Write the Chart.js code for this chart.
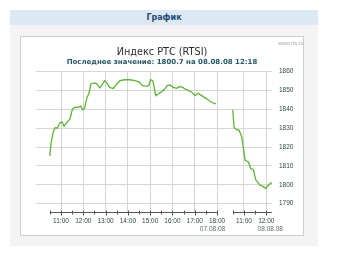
<!DOCTYPE html>
<html>
<head>
<meta charset="utf-8">
<script src="https://cdn.jsdelivr.net/npm/chart.js@4.4.0/dist/chart.umd.min.js"></script>
<style>
  body { margin: 0; width: 340px; height: 255px; background: #fff; position: relative; overflow: hidden; font-family: "DejaVu Sans", sans-serif; }
  #hdr { position: absolute; left: 10px; top: 10px; width: 308px; height: 15px; line-height: 15px; background: #dce8f4; color: #1f4e79; font-weight: bold; font-size: 8px; text-align: center; }
  #panel { position: absolute; left: 10px; top: 25px; width: 308px; height: 221px; background: #f3f3f3; }
  #box { position: absolute; left: 20px; top: 36px; width: 282px; height: 198px; background: #fff; border: 1px solid #cfcfcf; }
  #site { position: absolute; left: 257px; top: 3px; font: 5.5px "Liberation Sans", sans-serif; color: #a8a8a8; }
  #rtsi { position: absolute; left: 0; top: 0; }
</style>
</head>
<body>
<div id="hdr">График</div>
<div id="panel"></div>
<div id="box">
  <canvas id="rtsi" width="282" height="198"></canvas>
  <div id="site">www.rts.ru</div>
</div>
<script>
// 07.08.08 session
const day1Times = ['10:30','10:33','10:39','10:44','10:50','10:57','11:03','11:08','11:15','11:24',
  '11:31','11:38','11:47','11:53','11:58','12:03','12:09','12:16','12:20','12:30',
  '12:36','12:45','12:52','12:58','13:05','13:12','13:21','13:30','13:39','13:52',
  '14:06','14:19','14:32','14:39','14:51','14:57','15:01','15:07','15:10','15:15',
  '15:22','15:31','15:38','15:46','15:53','16:02','16:11','16:20','16:28','16:34',
  '16:40','16:52','17:01','17:09','17:19','17:32','17:45','17:57'];
const day1Values = [1815.3,1821.8,1827.9,1830.2,1830.0,1832.8,1833.2,1831.0,1832.8,1834.9,
  1840.2,1841.1,1841.0,1841.6,1839.8,1840.2,1845.5,1849.0,1853.4,1853.9,
  1853.4,1851.3,1853.4,1855.1,1853.4,1851.4,1851.0,1853.4,1855.1,1855.6,
  1855.6,1855.1,1854.2,1852.5,1852.1,1852.8,1855.6,1855.1,1852.5,1847.2,
  1848.1,1849.3,1850.4,1852.5,1852.8,1851.6,1851.1,1852.0,1851.6,1850.6,
  1850.2,1849.0,1847.2,1848.4,1847.2,1845.5,1843.7,1842.8];

// 08.08.08 session
const day2Times = ['10:30','10:33','10:40','10:47','10:54','10:58','11:03','11:12','11:18','11:25',
  '11:32','11:43','11:52','11:59','12:06','12:13','12:18'];
const day2Values = [1839.7,1830.5,1829.2,1828.8,1825.3,1820.0,1813.0,1812.1,1808.6,1808.1,
  1802.5,1799.9,1799.0,1798.1,1799.9,1801.1,1800.7];

const xTickDays = [1,1,1,1,1,1,1,1,2,2];
const xTickLabels = ['11:00','12:00','13:00','14:00','15:00','16:00','17:00','18:00','11:00','12:00'];
const dateLabels = ['07.08.08','08.08.08'];
const yTicks = [1790,1800,1810,1820,1830,1840,1850,1860];
const axisSpans = [[1,'10:30','18:00'],[2,'10:30','12:15']];

const lastValue = day2Values[day2Values.length - 1];
const lastTime = '08.08.08 ' + day2Times[day2Times.length - 1];

// second day is drawn after a short break in the time axis
const DAY2_SHIFT = 8.21;
const hours = t => { const [h, m] = t.split(':').map(Number); return h + m / 60; };
const toAxis = (day, t) => hours(t) + (day === 2 ? DAY2_SHIFT : 0);

const xTickValues = xTickLabels.map((t, i) => toAxis(xTickDays[i], t));

const axisBreak = {
  id: 'axisBreak',
  afterDraw(chart) {
    const { ctx, chartArea } = chart;
    const x = chart.scales.x;
    const y = Math.round(chartArea.bottom) + 0.5;
    ctx.save();
    ctx.strokeStyle = '#555';
    ctx.lineWidth = 1;
    axisSpans.forEach(([d, from, to]) => {
      ctx.beginPath();
      ctx.moveTo(x.getPixelForValue(toAxis(d, from)), y);
      ctx.lineTo(x.getPixelForValue(toAxis(d, to)), y);
      ctx.stroke();
      for (let t = Math.ceil(hours(from) * 2) / 2; t <= hours(to) + 1e-6; t += 0.5) {
        const px = Math.round(x.getPixelForValue(t + (d === 2 ? DAY2_SHIFT : 0))) + 0.5;
        const h = Number.isInteger(t) ? 3 : 2;
        ctx.beginPath();
        ctx.moveTo(px, y - 2);
        ctx.lineTo(px, y + h);
        ctx.stroke();
      }
    });
    ctx.fillStyle = '#5a6a6a';
    ctx.font = '6.5px "Liberation Sans"';
    ctx.textAlign = 'center';
    ctx.textBaseline = 'middle';
    ctx.fillText(dateLabels[0], x.getPixelForValue(toAxis(1, '18:00')) - 4.5, chartArea.bottom + 17.5);
    ctx.fillText(dateLabels[1], x.getPixelForValue(toAxis(2, '12:00')) + 4, chartArea.bottom + 17.5);
    ctx.restore();
  }
};

new Chart(document.getElementById('rtsi').getContext('2d'), {
  type: 'line',
  data: {
    datasets: [{
      label: '07.08.08',
      data: day1Times.map((t, i) => ({ x: toAxis(1, t), y: day1Values[i] })),
      borderColor: '#5db534',
      borderWidth: 1.3,
      pointRadius: 0,
      tension: 0
    }, {
      label: '08.08.08',
      data: day2Times.map((t, i) => ({ x: toAxis(2, t), y: day2Values[i] })),
      borderColor: '#5db534',
      borderWidth: 1.3,
      pointRadius: 0,
      tension: 0
    }]
  },
  options: {
    responsive: false,
    animation: false,
    layout: { padding: 0 },
    plugins: {
      legend: { display: false },
      tooltip: { enabled: false },
      title: {
        display: true,
        text: 'Индекс РТС (RTSI)',
        color: '#2b2b2b',
        font: { family: 'DejaVu Sans', size: 9.7, weight: 'normal', lineHeight: 1.2 },
        padding: { top: 9.2, bottom: 0 }
      },
      subtitle: {
        display: true,
        text: 'Последнее значение: ' + lastValue.toFixed(1) + ' на ' + lastTime,
        color: '#245a66',
        font: { family: 'DejaVu Sans', size: 7, weight: 'bold', lineHeight: 1.2 },
        padding: { top: 0.4, bottom: 4.8 }
      }
    },
    scales: {
      x: {
        type: 'linear',
        min: 9.878,
        max: 20.467,
        afterBuildTicks: s => { s.ticks = xTickValues.map(v => ({ value: v })); },
        afterFit: s => { s.height = 23; },
        border: { display: false },
        grid: { color: '#d6d6d6', drawTicks: false },
        ticks: {
          autoSkip: false,
          maxRotation: 0,
          padding: 5.5,
          color: '#2e4a4a',
          font: { family: 'Liberation Sans', size: 6.5 },
          callback: (v, i) => xTickLabels[i]
        }
      },
      y: {
        position: 'right',
        min: 1785.6,
        max: 1860,
        afterBuildTicks: s => { s.ticks = yTicks.map(v => ({ value: v })); },
        afterFit: s => { s.width = 31; },
        border: { display: false },
        grid: { color: '#d6d6d6', drawTicks: false },
        ticks: {
          padding: 7,
          color: '#2e4a4a',
          font: { family: 'Liberation Sans', size: 6.5 },
          callback: v => String(v)
        }
      },
      // empty left margin so the titles stay centred on the whole box
      yLeft: {
        position: 'left',
        afterFit: s => { s.width = 15; },
        border: { display: false },
        grid: { display: false },
        ticks: { display: false }
      }
    }
  },
  plugins: [axisBreak]
});
</script>
</body>
</html>
